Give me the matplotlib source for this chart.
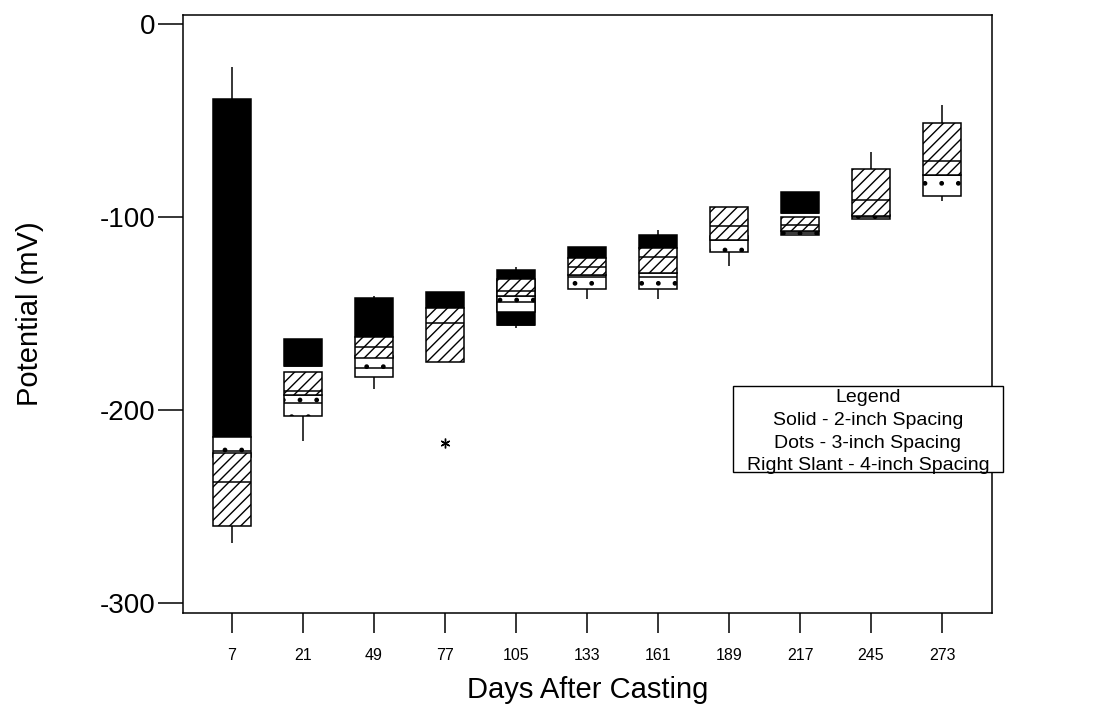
import numpy as np
import matplotlib
matplotlib.use("Agg")
import matplotlib.pyplot as plt

plt.rcParams['font.family'] = ['Liberation Sans', 'DejaVu Sans']
plt.rcParams['hatch.linewidth'] = 1.0

nan = np.nan
days = ["7", "21", "49", "77", "105", "133", "161", "189", "217", "245", "273"]

# Solid - 2-inch spacing
solid_q3 = [-39, -163, -142, -139, -127.5, -115.7, -109.3, nan, -87, nan, nan]
solid_q1 = [-214, -177, -162, -147, -156, -121, -116, nan, -97.6, nan, nan]
solid_med = [-214, -177, -162, -147, -156, -121, -116, nan, -97.6, nan, nan]
solid_whi = [-22, nan, -141, nan, -125.7, nan, -106.7, nan, nan, nan, nan]
solid_wlo = [nan, nan, nan, nan, -157.5, nan, nan, nan, nan, nan, nan]

# Dots - 3-inch spacing
dots_q3 = [-214, -192, -172, nan, -141, -130, -129, -110, -107, -99, -78]
dots_q1 = [-224, -203, -183, nan, -149, -137, -137, -118, -109, -101, -89]
dots_med = [-221, -196, -178, nan, -144, -131, -131, -112, -108, -100, -78]
dots_whi = [nan, nan, nan, nan, nan, nan, nan, nan, nan, nan, nan]
dots_wlo = [nan, -216, -189, nan, nan, -142.5, -142.5, -125.4, nan, nan, -91.6]

# Right slant - 4-inch spacing
slant_q3 = [-222, -180, -162, -147, -132, -121, -116, -94.6, -100, -75, -51]
slant_q1 = [-260, -192, -173, -175, -141, -130, -129, -112, -107, -99.5, -78]
slant_med = [-237, -190, -167, -155, -138, -126, -120.5, -104.5, -104, -91, -71]
slant_whi = [nan, nan, nan, nan, nan, nan, nan, nan, nan, -66, -42]
slant_wlo = [-269, nan, nan, nan, nan, nan, nan, nan, nan, nan, nan]

outlier_day_idx = [3]
outlier_val = [-217]

fig = plt.figure(figsize=(11, 7.07), dpi=100)
ax = fig.add_axes([183/1100, 1-613/707, (992-183)/1100, (613-15)/707])

x = np.arange(len(days))
width = 0.53
LW = 1.1

def draw_series(q3, q1, med, whi, wlo, color, hatch):
    q3 = np.array(q3, float); q1 = np.array(q1, float)
    med = np.array(med, float); whi = np.array(whi, float); wlo = np.array(wlo, float)
    ok = ~np.isnan(q3)
    m = ~np.isnan(whi) & ok
    ax.vlines(x[m], q3[m], whi[m], color='black', lw=LW, zorder=2)
    m = ~np.isnan(wlo) & ok
    ax.vlines(x[m], q1[m], wlo[m], color='black', lw=LW, zorder=2)
    ax.bar(x[ok], q3[ok] - q1[ok], bottom=q1[ok], width=width,
           color=color, edgecolor='black', hatch=hatch, lw=LW, zorder=3)
    m = ~np.isnan(med) & ok
    ax.hlines(med[m], x[m] - width/2, x[m] + width/2, color='black', lw=LW, zorder=3)

draw_series(solid_q3, solid_q1, solid_med, solid_whi, solid_wlo, 'black', None)
draw_series(dots_q3, dots_q1, dots_med, dots_whi, dots_wlo, 'white', '.')
draw_series(slant_q3, slant_q1, slant_med, slant_whi, slant_wlo, 'white', '///')

ax.plot(x[outlier_day_idx], outlier_val, linestyle='none', marker=(6, 2, 0),
        color='black', markersize=7, mew=1.0, zorder=4)

ax.set_xlim((183-232)/71, (992-232)/71)
ax.set_ylim(-305, 4.7)
ax.set_xticks(x)
ax.set_xticklabels(days, fontsize=11.5)
ax.set_yticks([0, -100, -200, -300])
ax.set_yticklabels(['0', '-100', '-200', '-300'], fontsize=20)
ax.tick_params(axis='y', length=18, width=LW, direction='out', pad=2)
ax.tick_params(axis='x', length=14.4, width=LW, direction='out', pad=11)
for s in ax.spines.values():
    s.set_linewidth(LW)
xl = ax.set_xlabel("Days After Casting", fontsize=21)
yl = ax.set_ylabel("Potential (mV)", fontsize=21)
ax.xaxis.set_label_coords(0.5, (613-690)/598)
xl.set_va('center')
ax.yaxis.set_label_coords((30-183)/809, 0.5)
yl.set_va('center')

# Legend box
lx0, lx1, ly0, ly1 = 733/1100, 1003/1100, 1-472/707, 1-386/707
fig.patches.append(plt.Rectangle((lx0, ly0), lx1-lx0, ly1-ly0, transform=fig.transFigure,
                                 facecolor='white', edgecolor='black', lw=1.0, zorder=10))
lines = ["Legend", "Solid - 2-inch Spacing", "Dots - 3-inch Spacing", "Right Slant - 4-inch Spacing"]
for i, t in enumerate(lines):
    fig.text((lx0+lx1)/2, 1-(398 + i*22.5)/707, t, ha='center', va='center', fontsize=14, zorder=11)

fig.savefig("out.png", dpi=100)
